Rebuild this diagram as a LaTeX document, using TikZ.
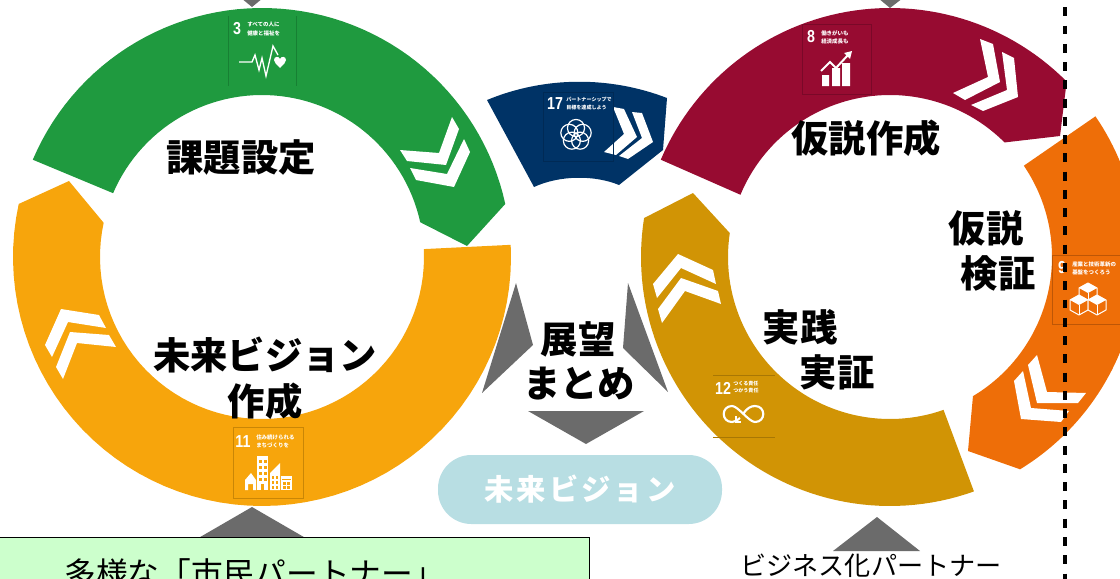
\documentclass[tikz,border=0pt]{standalone}
\usepackage{fontspec}
\setmainfont{Noto Sans CJK JP}
\newfontfamily\numfont{Liberation Sans}[Scale=1]
\definecolor{cgreen}{HTML}{1F9A3F}
\definecolor{cgreend}{HTML}{178033}
\definecolor{camber}{HTML}{F7A50C}
\definecolor{camberd}{HTML}{C98606}
\definecolor{ccrimson}{HTML}{970B31}
\definecolor{ccrimsond}{HTML}{7A0828}
\definecolor{cvermil}{HTML}{EE6E08}
\definecolor{cvermild}{HTML}{BD5606}
\definecolor{cochre}{HTML}{D19405}
\definecolor{cochred}{HTML}{A87704}
\definecolor{cnavy}{HTML}{003366}
\definecolor{cnavyd}{HTML}{002A55}
\definecolor{cgray}{HTML}{6B6B6B}
\definecolor{cbox}{HTML}{CCFFCC}
\definecolor{cpill}{HTML}{B8DEE3}
\newcommand{\fs}[1]{\fontsize{#1pt}{#1pt}\selectfont}
\newcommand{\ringarc}[5]{plot[domain=#4:#5,samples=60,variable=\t] ({#1+#3*cos(\t)},{#2+#3*sin(\t)})}
\newcommand{\ringto}[5]{-- plot[domain=#4:#5,samples=60,variable=\t] ({#1+#3*cos(\t)},{#2+#3*sin(\t)})}
\tikzset{
  big/.style={text=black,inner sep=0pt,font=\fs{28}\bfseries},
  tiny/.style={text=white,inner sep=0pt,anchor=west,align=left,font=\fs{#1}\bfseries},
  tiny/.default=4.1,
  sdgnum/.style={text=white,inner sep=0pt,font=\fs{13}\numfont\bfseries,xscale=.82,transform shape},
  chev/.style={fill=white},
  tri/.style={fill=cgray},
}
\newcommand{\cube}[2]{%
  \filldraw[draw=white,fill=cvermil,line width=.75pt,line join=round] (#1-9,#2-5) -- (#1,#2-10) -- (#1+9,#2-5) -- (#1+9,#2+5) -- (#1,#2+10) -- (#1-9,#2+5) -- cycle;
  \fill[white] (#1-9,#2-5) -- (#1,#2-10) -- (#1+9,#2-5) -- (#1,#2) -- cycle;
  \draw[white,line width=.75pt] (#1,#2) -- (#1,#2+10);
}
\begin{document}
\begin{tikzpicture}[x=0.75pt,y=-0.75pt]
\useasboundingbox (0,0) rectangle (1120,578);
\clip (0,0) rectangle (1120,578);
% gray triangles
\fill[tri] (241,-2) -- (263,-2) -- (252,7) -- cycle;
\fill[tri] (878,-2) -- (903,-2) -- (890,8) -- cycle;
\fill[tri] (516,283) -- (482,393) -- (533,345) -- cycle;
\fill[tri] (628,283) -- (623,348) -- (668,392) -- cycle;
\fill[tri] (528,411) -- (644,411) -- (586,444) -- cycle;
\fill[tri] (195,540) -- (252,507) -- (309,540) -- cycle;
\fill[tri] (833,551) -- (877,517) -- (920,551) -- cycle;
% green ring part
\fill[cgreen] \ringarc{262}{257}{249}{-157}{-12.3} -- (467,246) \ringto{262}{257}{162}{-12.4}{-156.8} -- cycle;
% amber ring part
\fill[camber] \ringarc{262}{257}{249}{-2.8}{192.3} -- (69,181) \ringto{262}{257}{162}{192.2}{-2.8} -- cycle;
% crimson
\fill[ccrimson] \ringarc{890}{257}{249}{-157}{-44.8} -- (1060,136) \ringto{890}{257}{162}{-45}{-157.4} -- cycle;
% vermilion
\fill[cvermil] \ringarc{890}{257}{249}{-34.4}{58.5} -- (968,451) \ringto{890}{257}{162}{59.2}{-34.3} -- cycle;
% ochre
\fill[cochre] \ringarc{890}{257}{249}{70.3}{189} -- (693,193) \ringto{890}{257}{162}{188.5}{70.7} -- cycle;
% navy
\fill[cnavy] (487,100) .. controls (545,76) and (610,76) .. (667,98) -- (663,150) -- (619,185) .. controls (595,175) and (560,175) .. (534,187) -- cycle;
% chevrons
\fill[chev] (400,150) -- (439,153) -- (452,117) -- (459,129) -- (446,165) -- (407,161) -- cycle;
\fill[chev] (410,168) -- (447,174) -- (464,139) -- (470,152) -- (454,187) -- (416,180) -- cycle;
\fill[chev] (45,345) -- (61,309) -- (99,315) -- (106,328) -- (68,322) -- (52,357) -- cycle;
\fill[chev] (56,367) -- (70,332) -- (109,335) -- (116,347) -- (77,343) -- (63,379) -- cycle;
\fill[chev] (980,39) -- (993,44) -- (1000,82) -- (965,100) -- (953,93) -- (988,77) -- cycle;
\fill[chev] (1002,52) -- (1014,58) -- (1018,97) -- (983,111) -- (971,105) -- (1007,90) -- cycle;
\fill[chev] (1028,365) -- (1037,355) -- (1047,392) -- (1086,393) -- (1078,403) -- (1037,403) -- cycle;
\fill[chev] (1014,381) -- (1023,371) -- (1031,408) -- (1069,411) -- (1061,422) -- (1021,419) -- cycle;
\fill[chev] (653,284) -- (678,254) -- (713,270) -- (716,284) -- (681,268) -- (657,298) -- cycle;
\fill[chev] (658,309) -- (681,278) -- (718,291) -- (721,304) -- (685,291) -- (662,323) -- cycle;
\fill[chev] (613,107) -- (624,109) -- (637,137) -- (616,155) -- (604,152) -- (624,134) -- cycle;
\fill[chev] (632,112) -- (642,113) -- (653,142) -- (628,159) -- (619,156) -- (642,138) -- cycle;
% SDG 3
\draw[cgreend,line width=.5pt] (228,16) -- (228,86) (296,16) -- (296,86);
\node[sdgnum] (n3) at (237,29) {3};
\node[tiny] (t3) at (247,29) {すべての人に\\[2pt]健康と福祉を};
\draw[white,line width=1pt] (239,62) -- (252,62) -- (255,55) -- (259,70) -- (262,58) -- (266,76) -- (273,46) -- (278,55);
\fill[white] (280,68) .. controls (276,64) and (274,62) .. (274,60) .. controls (274,56) and (279,56) .. (280,59) .. controls (281,56) and (286,56) .. (286,60) .. controls (286,62) and (284,64) .. (280,68) -- cycle;
% SDG 8
\draw[ccrimsond,line width=.5pt] (802,24) rectangle (871,94);
\node[sdgnum] (n8) at (811,37) {8};
\node[tiny] (t8) at (821,37) {働きがいも\\[2pt]経済成長も};
\fill[white] (822,75) rectangle (829,86) (832,68) rectangle (840,86) (842,63) rectangle (850,86);
\draw[white,line width=1.5pt] (821,71) -- (830,62) -- (836,68) -- (848,55);
\fill[white] (852,51) -- (844,53) -- (850,59) -- cycle;
% SDG 17
\draw[cnavyd,line width=.5pt] (543,92) rectangle (613,161);
\node[sdgnum] (n17) at (555,103.5) {17};
\node[tiny=3.8] (t17) at (566,103.5) {パートナーシップで\\[2.4pt]目標を達成しよう};
\foreach \a in {-90,-18,54,126,198}
  \draw[white,line width=.9pt] ({576+7*cos(\a)},{135+7*sin(\a)}) circle[radius=6.4pt];
% SDG 9
\draw[cvermild,line width=.5pt] (1052,255) rectangle (1122,324);
\node[sdgnum] (n9) at (1062,268) {9};
\node[tiny] (t9) at (1072,268) {産業と技術革新の\\[1.8pt]基盤をつくろう};
\cube{1088}{293}
\cube{1079}{305}
\cube{1097}{305}
% SDG 12
\draw[cochred,line width=.5pt] (713,375) -- (775,375) (713,437) -- (775,437);
\node[sdgnum] (n12) at (723,388) {12};
\node[tiny=3.8] (t12) at (733,387) {つくる責任\\[1.2pt]つかう責任};
\draw[white,line width=1.6pt] (743,414) .. controls (747,408) and (751,406) .. (755,406) .. controls (766,406) and (766,422) .. (755,422) .. controls (749,422) and (738,406) .. (732,406) .. controls (721,406) and (721,422) .. (732,422) .. controls (735,422) and (738,420) .. (740,418);
\draw[white,line width=.9pt] (736,416) -- (736,422) -- (741,422);
% SDG 11
\draw[camberd,line width=.5pt] (233,427) rectangle (303,498);
\node[sdgnum] (n11) at (243,442) {11};
\node[tiny] (t11) at (256,441) {住み続けられる\\[2pt]まちづくりを};
\fill[white] (245,490) -- (245,480) -- (251,473) -- (256,480) -- (256,490) -- (253,490) -- (253,484) -- (248,484) -- (248,490) -- cycle;
\fill[white] (257,456) rectangle (268,490);
\foreach \py in {460,466,472,478} \foreach \px in {259,264}
  \fill[camber] (\px,\py) rectangle ++(3,3);
\fill[camber] (261,484) rectangle (264,490);
\fill[white] (270,490) -- (270,473) -- (280,463) -- (280,490) -- cycle;
\foreach \py in {476,481,486} \foreach \px in {272,276}
  \fill[camber] (\px,\py) rectangle ++(2,3);
\fill[white] (281,476) rectangle (292,490);
\fill[camber] (282,479) rectangle (291,480);
\foreach \py in {482,486} \foreach \px in {283,287}
  \fill[camber] (\px,\py) rectangle ++(3,2.5);
% main labels
\node[big] (l1) at (241,157) {課題設定};
\node[big] (l2a) at (265,355) {未来ビジョン};
\node[big] (l2b) at (265,401) {作成};
\node[big] (l3) at (866,138) {仮説作成};
\node[big] (l4a) at (986,228) {仮説};
\node[big] (l4b) at (998,273) {検証};
\node[big] (l5a) at (800,327) {実践};
\node[big] (l5b) at (837,372) {実証};
\node[big] (l6a) at (578,339) {展望};
\node[big] (l6b) at (579,384) {まとめ};
% pill
\node[fill=cpill,rounded corners=25pt,minimum width=213pt,minimum height=51.75pt,inner sep=0pt,text=white,font=\fs{22}\bfseries] (vision) at (580,489.5) {\addfontfeature{LetterSpace=10}未来ビジョン};
% box
\filldraw[fill=cbox,draw=black,line width=.75pt] (-5,537) rectangle (589,590);
\node[inner sep=0pt,anchor=west,text=black,font=\fs{23.8}] (box) at (64,573) {多様な「市民パートナー」};
\node[inner sep=0pt,text=black,font=\fs{19.6}] (biz) at (871,566) {ビジネス化パートナー};
% dashed separator
\coordinate (dtop) at (1065,-11);
\coordinate (dbot) at (1065,590);
\draw[black,line width=2.3pt,dash pattern=on 6.7pt off 7pt] (dtop) -- (dbot);
\end{tikzpicture}
\end{document}
